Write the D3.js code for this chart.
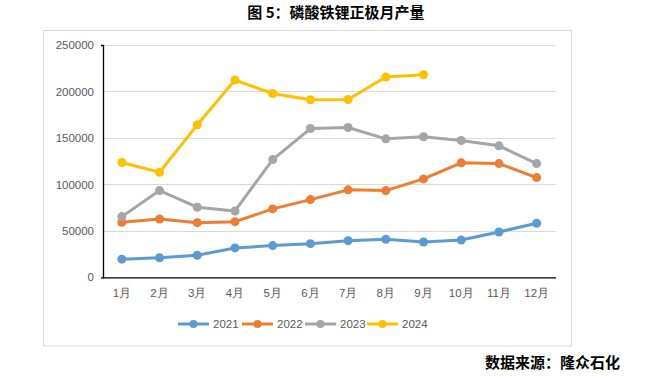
<!DOCTYPE html>
<html>
<head>
<meta charset="utf-8">
<script src="https://cdn.jsdelivr.net/npm/d3@7"></script>
<style>
  body { margin: 0; background: #fff; }
  svg { display: block; }
</style>
</head>
<body>
<div id="chart"></div>
<script>
// chart data
const months = ["1月", "2月", "3月", "4月", "5月", "6月", "7月", "8月", "9月", "10月", "11月", "12月"];
const years = ["2021", "2022", "2023", "2024"];
const yTicks = [0, 50000, 100000, 150000, 200000, 250000];
const v2021 = [19500, 21100, 23700, 31600, 34100, 36200, 39400, 40900, 38000, 40200, 48800, 58200];
const v2022 = [59200, 62800, 58800, 59900, 73600, 83600, 94100, 93300, 105900, 123200, 122400, 107300];
const v2023 = [65300, 93300, 75400, 71400, 126700, 160100, 161200, 149000, 151200, 147200, 141500, 122400];
const v2024 = [123500, 113100, 164100, 212300, 197800, 191100, 191400, 215500, 218000];
const colors = ["#5b9bd5", "#ed7d31", "#a5a5a5", "#ffc000"];

const series = [v2021, v2022, v2023, v2024].map((vals, i) => ({
  name: years[i],
  color: colors[i],
  values: vals.map((v, j) => ({ month: months[j], value: v })),
}));

const WIDTH = 646, HEIGHT = 377;
const plot = { left: 103, right: 555.5, top: 45, bottom: 277.3 };

const svg = d3.select("#chart").append("svg")
  .attr("width", WIDTH)
  .attr("height", HEIGHT)
  .attr("font-family", "'Noto Sans CJK SC', 'Liberation Sans', sans-serif");

// title
svg.append("text")
  .attr("x", 336).attr("y", 18)
  .attr("text-anchor", "middle")
  .attr("font-size", 15)
  .attr("font-weight", "bold")
  .attr("fill", "#000")
  .text("图 5：磷酸铁锂正极月产量");

// chart frame
svg.append("rect")
  .attr("x", 43.5).attr("y", 30.5)
  .attr("width", 528).attr("height", 315.5)
  .attr("fill", "#fff")
  .attr("stroke", "#d9d9d9");

const x = d3.scaleBand().domain(months).range([plot.left, plot.right]);
const y = d3.scaleLinear().domain([0, 250000]).range([plot.bottom, plot.top]);

// grid lines
svg.append("g")
  .selectAll("line")
  .data(yTicks.slice(1))
  .join("line")
  .attr("x1", plot.left).attr("x2", plot.right)
  .attr("y1", (d) => Math.round(y(d)) + 0.5)
  .attr("y2", (d) => Math.round(y(d)) + 0.5)
  .attr("stroke", "#d9d9d9");

// Y axis
svg.append("g")
  .attr("transform", `translate(${plot.left},0)`)
  .call(d3.axisLeft(y).tickValues(yTicks).tickFormat(d3.format("d"))
    .tickSizeInner(0).tickSizeOuter(2).tickPadding(9))
  .call((g) => {
    g.select(".domain").attr("stroke", "#000").attr("stroke-width", 1.3);
    g.selectAll("text")
      .attr("font-family", "'Liberation Sans', sans-serif")
      .attr("font-size", 11.5)
      .attr("fill", "#595959");
  });

// X axis
svg.append("g")
  .attr("transform", `translate(0,${plot.bottom})`)
  .call(d3.axisBottom(x).tickSize(0).tickSizeOuter(0).tickPadding(12))
  .call((g) => {
    g.select(".domain").attr("stroke", "#000").attr("stroke-width", 1.3);
    g.selectAll("text")
      .attr("font-size", 11.5)
      .attr("fill", "#595959");
  });

// lines and markers
const line = d3.line()
  .x((d) => x(d.month) + x.bandwidth() / 2)
  .y((d) => y(d.value));

const groups = svg.append("g")
  .selectAll("g")
  .data(series)
  .join("g");

groups.append("path")
  .attr("d", (d) => line(d.values))
  .attr("fill", "none")
  .attr("stroke", (d) => d.color)
  .attr("stroke-width", 3)
  .attr("stroke-linejoin", "round");

groups.selectAll("circle")
  .data((d) => d.values.map((v) => ({ ...v, color: d.color })))
  .join("circle")
  .attr("cx", (d) => x(d.month) + x.bandwidth() / 2)
  .attr("cy", (d) => y(d.value))
  .attr("r", 4.5)
  .attr("fill", (d) => d.color);

// legend
const legendX = [178, 242, 305, 367];
const legend = svg.append("g")
  .selectAll("g")
  .data(series)
  .join("g")
  .attr("transform", (d, i) => `translate(${legendX[i]},324)`);

legend.append("line")
  .attr("x1", 0).attr("x2", 31)
  .attr("stroke", (d) => d.color)
  .attr("stroke-width", 3);
legend.append("circle")
  .attr("cx", 15.5).attr("r", 4)
  .attr("fill", (d) => d.color);
legend.append("text")
  .attr("x", 35).attr("y", 4)
  .attr("font-family", "'Liberation Sans', sans-serif")
  .attr("font-size", 11.5)
  .attr("fill", "#595959")
  .text((d) => d.name);

// source note
svg.append("text")
  .attr("x", 620).attr("y", 368)
  .attr("text-anchor", "end")
  .attr("font-size", 15)
  .attr("font-weight", "bold")
  .attr("fill", "#000")
  .text("数据来源：隆众石化");
</script>
</body>
</html>
